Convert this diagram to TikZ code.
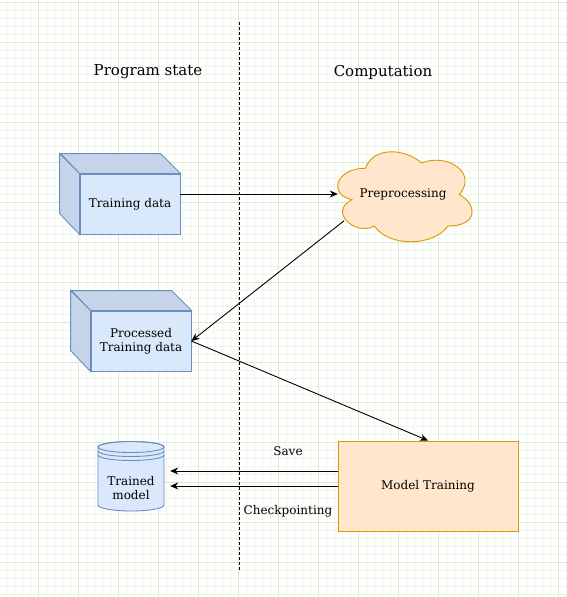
\documentclass[tikz,border=0pt]{standalone}
\usepackage{fontspec}
\setmainfont{DejaVu Serif}
\usepackage{xcolor}
\usetikzlibrary{arrows.meta}
\definecolor{bluefill}{HTML}{DAE8FC}
\definecolor{blueline}{HTML}{6C8EBF}
\definecolor{blueside}{HTML}{C6D4EA}
\definecolor{orangefill}{HTML}{FFE6CC}
\definecolor{orangeline}{HTML}{D79B00}
\definecolor{gridminor}{HTML}{EEF6EA}
\definecolor{gridmajor}{HTML}{DAEBD1}

\begin{document}
\begin{tikzpicture}[x=1pt, y=-1pt, font=\fontsize{12}{14}\selectfont,
		flow/.style={-{Stealth[length=8pt,width=7pt]}, line width=0.9pt},
		face/.style={draw=blueline, fill=bluefill, line width=0.9pt, minimum width=100, minimum height=60, align=center, inner sep=0},
		cubeside/.style={draw=blueline, fill=blueside, line width=0.9pt},
		block/.style={draw=orangeline, fill=orangefill, line width=0.9pt}]
		\useasboundingbox (0,0) rectangle (567,597);
		\fill[white] (0,0) rectangle (567,597);
		% grid
		\foreach \i in {0,...,70} \draw[gridminor] ({6.3+8*\i},0) -- ++(0,597);
		\foreach \i in {0,...,74} \draw[gridminor] (0,{1.7+8*\i}) -- ++(567,0);
		\foreach \i in {0,...,13} \draw[gridmajor] ({38.3+40*\i},0) -- ++(0,597);
		\foreach \i in {0,...,14} \draw[gridmajor] (0,{1.7+40*\i}) -- ++(567,0);
		\draw[dash pattern=on 3pt off 2pt, line width=1pt] (239.5,22) -- (239.5,572);
		\node (state) at (148,72) {\fontsize{15}{17}\selectfont Program state};
		\node (comp) at (383,72) {\fontsize{15}{17}\selectfont Computation};
		% cubes
		\node[face] (train) at (130,204) {Training data};
		\draw[cubeside] (train.north west) -- (train.north east) -- ++(-20,-20) -- ++(-100,0) -- cycle;
		\draw[cubeside] (train.north west) -- ++(-20,-20) -- ++(0,60) -- (train.south west) -- cycle;
		\node[face] (proc) at (141,341) {Processed\\Training data};
		\draw[cubeside] (proc.north west) -- (proc.north east) -- ++(-20,-20) -- ++(-100,0) -- cycle;
		\draw[cubeside] (proc.north west) -- ++(-20,-20) -- ++(0,60) -- (proc.south west) -- cycle;
		% cloud
		\begin{scope}[shift={(328,142)}, x=150pt, y=-105pt]
			\draw[block] (0.25,0.25) .. controls (0.05,0.25) and (0,0.5) .. (0.16,0.55)
				.. controls (0,0.66) and (0.18,0.9) .. (0.31,0.8)
				.. controls (0.4,1) and (0.7,1) .. (0.8,0.8)
				.. controls (1,0.8) and (1,0.6) .. (0.875,0.5)
				.. controls (1,0.3) and (0.8,0.1) .. (0.625,0.2)
				.. controls (0.5,0.05) and (0.3,0.05) .. (0.25,0.25) -- cycle;
		\end{scope}
		\node[minimum width=130, minimum height=52, inner sep=0] (prep) at (403,194.5) {Preprocessing};
		\node[block, minimum width=180, minimum height=90] (model) at (428,486) {Model Training};
		% storage
		\node[minimum width=66, minimum height=46, inner sep=0] (store) at (131,488) {};
		\draw[draw=blueline, fill=bluefill, line width=0.9pt] (98,447) -- (98,505) arc[start angle=180, end angle=360, x radius=33pt, y radius=6pt] -- (164,447) arc[start angle=0, end angle=180, x radius=33pt, y radius=5.5pt] -- cycle;
		\draw[blueline, line width=0.9pt] (131,447) ellipse[x radius=33pt, y radius=5.5pt];
		\draw[blueline, line width=0.9pt] (98,451) arc[start angle=180, end angle=360, x radius=33pt, y radius=5.5pt];
		\draw[blueline, line width=0.9pt] (98,455) arc[start angle=180, end angle=360, x radius=33pt, y radius=5.5pt];
		\node[align=center, inner sep=0] at (store) {Trained\\model};
		% connectors
		\draw[flow] ([yshift=10pt]train.east) -- ([yshift=0.5pt]prep.west);
		\draw[flow] (prep.204.5) -- (proc.east);
		\draw[flow] (proc.east) -- (model.north);
		\draw[flow, shorten >=6pt] ([yshift=15pt]model.west) -- ([yshift=15pt]model.west -| store.east);
		\draw[flow, shorten >=6pt] (model.west) -- (model.west -| store.east);
		\node (save) at (288,451) {Save};
		\node (ckpt) at (288,511) {Checkpointing};
	\end{tikzpicture}
\end{document}
